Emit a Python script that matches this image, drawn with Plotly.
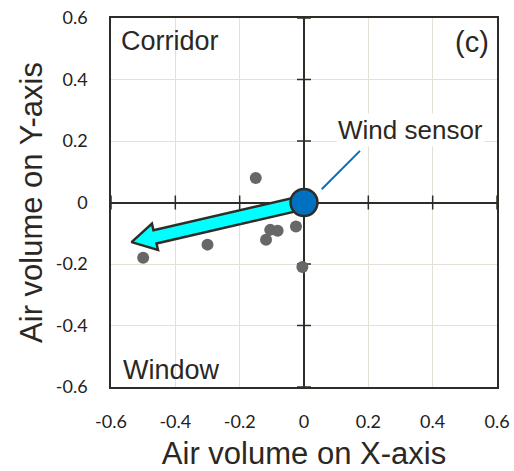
import numpy as np
import plotly.graph_objects as go

# ---- data ----
obs_x = [-0.15, -0.50, -0.30, -0.105, -0.082, -0.118, -0.025, -0.005]
obs_y = [0.08, -0.18, -0.137, -0.089, -0.092, -0.121, -0.078, -0.21]
mean_wind = (-0.536, -0.129)      # averaged air-volume vector (arrow tip)
sensor = (0.0, 0.0)
tick_vals = [-0.6, -0.4, -0.2, 0, 0.2, 0.4, 0.6]
tick_text = ["-0.6", "-0.4", "-0.2", "0", "0.2", "0.4", "0.6"]
x_title = "Air volume on X-axis"
y_title = "Air volume on Y-axis"

W, H = 514, 471
ML, MR, MT, MB = 111, 17, 18, 84
pw, ph = W - ML - MR, H - MT - MB
sx, sy = pw / 1.2, ph / 1.2

DARK = "#2f2c27"
GRID = "#e4e0d8"

# arrow polygon built in pixel space from the vector, converted to data units
dxp, dyp = mean_wind[0] * sx, mean_wind[1] * sy
L = np.hypot(dxp, dyp)
ux, uy = dxp / L, dyp / L
vx, vy = -uy, ux
w_s, w_h, h_len = 6.8, 13.5, 24.0
pts = [(0, w_s), (L - h_len, w_s), (L - h_len, w_h), (L, 0),
       (L - h_len, -w_h), (L - h_len, -w_s), (0, -w_s), (0, w_s)]
ax_ = [(u * ux + v * vx) / sx for u, v in pts]
ay_ = [(u * uy + v * vy) / sy for u, v in pts]

fig = go.Figure()

# tick marks crossing the zero axes
fig.add_trace(go.Scatter(x=tick_vals, y=[0] * len(tick_vals), mode="markers",
                         marker=dict(symbol="line-ns", size=10, line=dict(color=DARK, width=1.5)),
                         hoverinfo="skip", showlegend=False))
fig.add_trace(go.Scatter(x=[0] * len(tick_vals), y=tick_vals, mode="markers",
                         marker=dict(symbol="line-ew", size=10, line=dict(color=DARK, width=1.5)),
                         hoverinfo="skip", showlegend=False))

fig.add_trace(go.Scatter(x=obs_x, y=obs_y, mode="markers",
                         marker=dict(size=12, color="#676767"), showlegend=False))

fig.add_trace(go.Scatter(x=ax_, y=ay_, mode="lines", fill="toself",
                         fillcolor="#00ffff", line=dict(color=DARK, width=2.5),
                         showlegend=False))

# leader line for the label
lead_x = [0.055, 0.174]
lead_y = [0.043, 0.168]
fig.add_trace(go.Scatter(x=lead_x, y=lead_y, mode="lines",
                         line=dict(color="#0070c0", width=2), showlegend=False))

fig.add_trace(go.Scatter(x=[sensor[0]], y=[sensor[1]], mode="markers",
                         marker=dict(size=27, color="#0070c0", line=dict(color=DARK, width=2.5)),
                         showlegend=False))

axis_common = dict(range=[-0.6, 0.6], tickvals=tick_vals, ticktext=tick_text,
                   showgrid=True, gridcolor=GRID, gridwidth=1,
                   zeroline=True, zerolinecolor=DARK, zerolinewidth=1.5,
                   showline=True, mirror=True, linecolor=DARK, linewidth=1.5,
                   ticks="", tickfont=dict(family="Lato", size=18, color="#222"),
                   fixedrange=True, automargin=False)

fig.update_layout(
    width=W, height=H,
    margin=dict(l=ML, r=MR, t=MT, b=MB, autoexpand=False),
    plot_bgcolor="white", paper_bgcolor="white",
    font=dict(family="Liberation Sans, Arial", color="#2b2824"),
    xaxis=dict(**axis_common, ticklabelstandoff=18,
               title=dict(text=x_title, font=dict(size=31), standoff=12)),
    yaxis=dict(**axis_common, ticklabelstandoff=18,
               title=dict(text=y_title, font=dict(size=31), standoff=4)),
    showlegend=False,
)

ann_font = dict(family="Liberation Sans, Arial", size=27, color="#2b2824")
fig.add_annotation(text="Corridor", xref="paper", yref="paper", x=0.02, y=0.985,
                   xanchor="left", yanchor="top", showarrow=False, font=ann_font)
fig.add_annotation(text="(c)", xref="paper", yref="paper", x=0.985, y=0.985,
                   xanchor="right", yanchor="top", showarrow=False,
                   font=dict(family="Liberation Sans, Arial", size=29, color="#2b2824"))
fig.add_annotation(text="Window", xref="paper", yref="paper", x=0.025, y=0.0,
                   xanchor="left", yanchor="bottom", showarrow=False, font=ann_font)
fig.add_annotation(text="Wind sensor", x=0.33, y=0.235, xref="x", yref="y",
                   showarrow=False, font=dict(family="Liberation Sans, Arial", size=26,
                                              color="#2b2824"), bgcolor="white")

fig.write_html("out.html")
